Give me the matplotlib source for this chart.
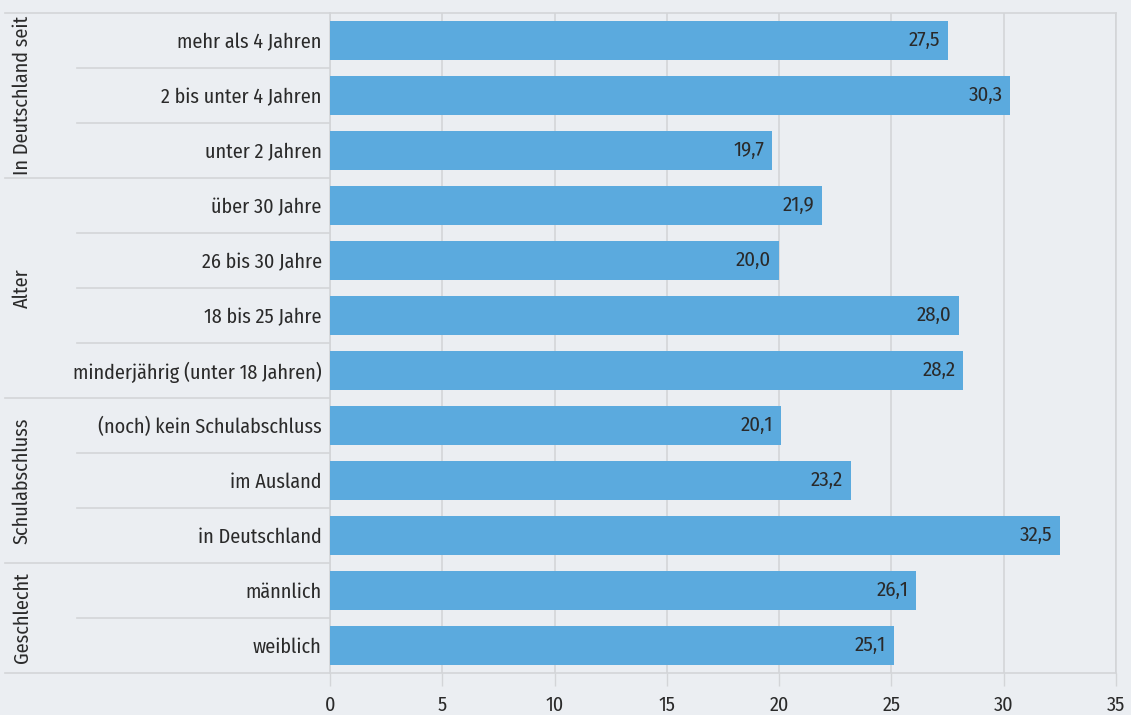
import matplotlib.pyplot as plt
import matplotlib.transforms as mtransforms

plt.rcParams["font.family"] = ["Fira Sans Condensed", "DejaVu Sans"]

# data, top to bottom
labels = [
    "mehr als 4 Jahren",
    "2 bis unter 4 Jahren",
    "unter 2 Jahren",
    "über 30 Jahre",
    "26 bis 30 Jahre",
    "18 bis 25 Jahre",
    "minderjährig (unter 18 Jahren)",
    "(noch) kein Schulabschluss",
    "im Ausland",
    "in Deutschland",
    "männlich",
    "weiblich",
]
values = [27.5, 30.3, 19.7, 21.9, 20.0, 28.0, 28.2, 20.1, 23.2, 32.5, 26.1, 25.1]
groups = ["In Deutschland seit", "Alter", "Schulabschluss", "Geschlecht"]
group_sizes = [3, 4, 3, 2]
xticks = [0, 5, 10, 15, 20, 25, 30, 35]

bg = "#ebeef2"
bar_color = "#5baade"
line_color = "#d3d5d8"
text_color = "#2a2a2a"
fs = 14.5

fig = plt.figure(figsize=(11.31, 7.15), dpi=100, facecolor=bg)
ax = fig.add_axes([330 / 1131, 1 - 673 / 715, (1116 - 330) / 1131, (673 - 13) / 715])
ax.set_facecolor(bg)

ypos = list(range(len(labels)))
ax.barh(ypos, values, height=0.71, color=bar_color, zorder=3)
for y, v in zip(ypos, values):
    ax.text(v - 0.35, y, f"{v:.1f}".replace(".", ","), ha="right", va="center",
            fontsize=fs + 0.5, color=text_color, zorder=4)

ax.set_xlim(0, 35)
ax.set_ylim(len(labels) - 0.5, -0.5)
ax.set_xticks(xticks)
ax.set_xticklabels([str(t) for t in xticks], fontsize=fs, color=text_color)
ax.set_yticks(ypos)
ax.set_yticklabels(labels, fontsize=fs, color=text_color)
ax.tick_params(axis="y", length=0, pad=6)
ax.tick_params(axis="x", length=9, width=1, color=line_color, pad=7)
ax.grid(axis="x", color=line_color, linewidth=1.2, zorder=0)
for side in ["left", "right", "top", "bottom"]:
    ax.spines[side].set_color(line_color)
    ax.spines[side].set_linewidth(1.2)

# separator lines on the left side
trans = mtransforms.blended_transform_factory(fig.transFigure, ax.transData)
inner_x0 = 77 / 1131
outer_x0 = 5 / 1131
ax0 = 330 / 1131
start = 0
bounds = [-0.5]
for size in group_sizes:
    for k in range(1, size):
        yb = start + k - 0.5
        ax.plot([inner_x0, ax0], [yb, yb], transform=trans, color=line_color,
                linewidth=1.2, clip_on=False)
    start += size
    bounds.append(start - 0.5)
for yb in bounds:
    ax.plot([outer_x0, ax0], [yb, yb], transform=trans, color=line_color,
            linewidth=1.2, clip_on=False)

# group labels
start = 0
for name, size in zip(groups, group_sizes):
    yc = start + (size - 1) / 2
    ax.text(22 / 1131, yc, name, transform=trans, rotation=90, ha="center",
            va="center", fontsize=fs, color=text_color)
    start += size

fig.savefig("out.png", dpi=100, facecolor=bg)
